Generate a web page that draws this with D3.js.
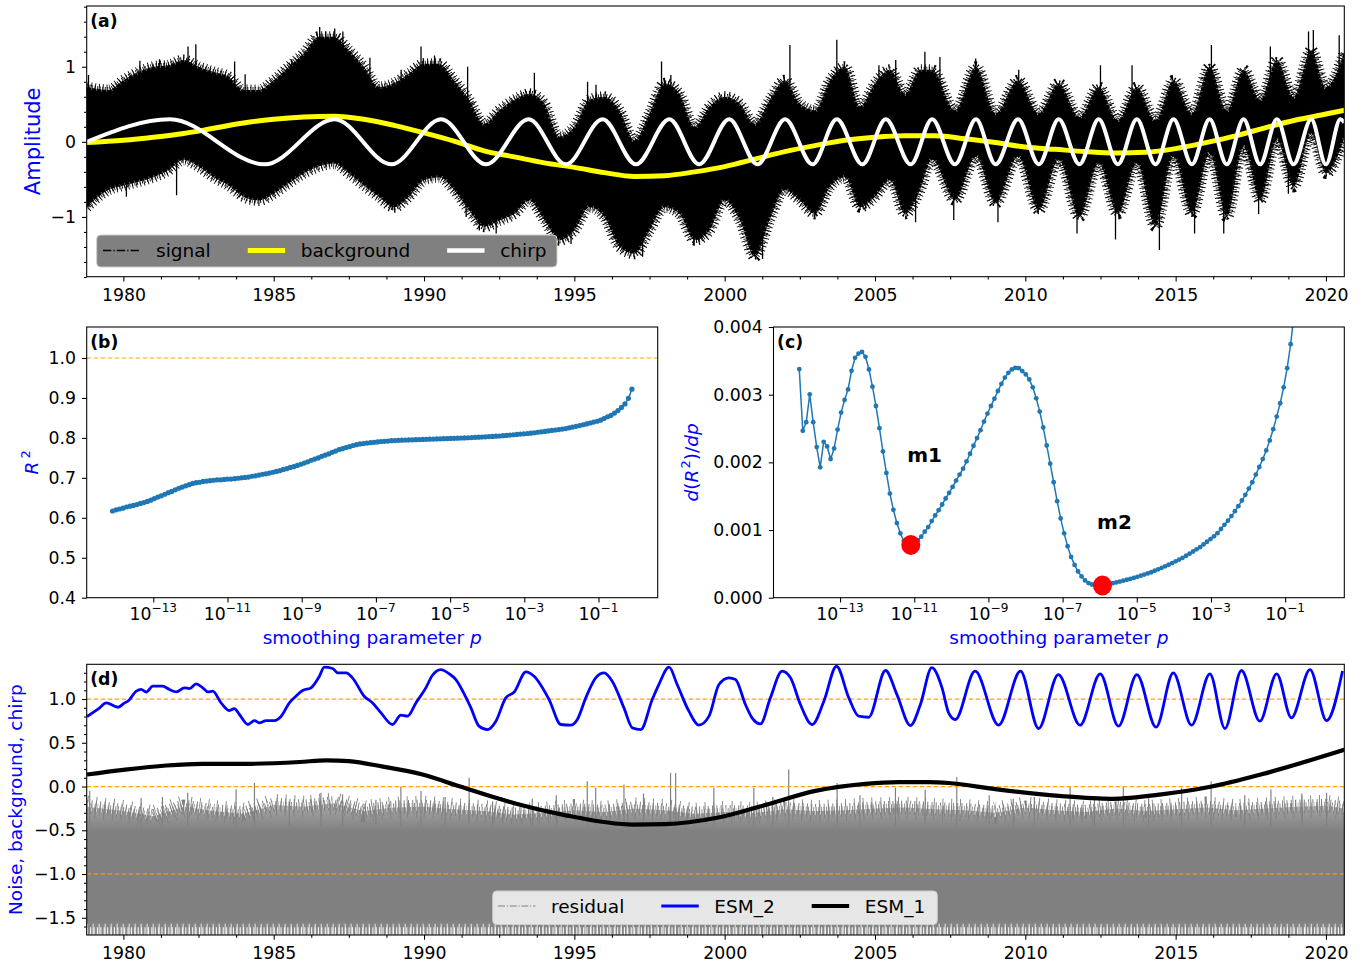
<!DOCTYPE html>
<html>
<head>
<meta charset="utf-8">
<script src="https://cdn.jsdelivr.net/npm/d3@7"></script>
<style>
  body { margin: 0; background: #fff; }
  svg { display: block; font-family: "DejaVu Sans", sans-serif; }
</style>
</head>
<body>
<svg id="chart" width="1364" height="964"></svg>
<script>
// ---------- values ----------

// (a) noisy signal, drawn as its envelope: [year, lower, upper]
const signalEnvelope = [
  [1978.78,-0.87,0.73],[1979.5,-0.64,0.69],[1980.0,-0.58,0.82],[1980.5,-0.53,0.93],
  [1981.0,-0.47,1.00],[1981.5,-0.38,1.02],[1982.0,-0.24,1.09],[1982.5,-0.33,1.00],
  [1983.0,-0.47,0.93],[1983.5,-0.58,0.87],[1984.0,-0.73,0.69],[1984.5,-0.78,0.69],
  [1985.0,-0.69,0.82],[1985.5,-0.55,1.00],[1986.0,-0.42,1.18],[1986.5,-0.33,1.40],
  [1987.0,-0.29,1.40],[1987.5,-0.42,1.22],[1988.0,-0.58,1.00],[1988.5,-0.73,0.73],
  [1989.0,-0.87,0.78],[1989.5,-0.73,0.91],[1990.0,-0.51,1.04],[1990.5,-0.47,1.04],
  [1991.0,-0.64,0.82],[1991.5,-0.91,0.56],[1992.0,-1.13,0.24],[1992.5,-1.05,0.42],
  [1993.0,-0.96,0.56],[1993.5,-0.78,0.64],[1994.0,-1.04,0.51],[1994.5,-1.31,0.07],
  [1995.0,-1.18,0.20],[1995.5,-0.87,0.56],[1996.0,-1.00,0.60],[1996.5,-1.40,0.42],
  [1997.0,-1.49,0.02],[1997.5,-1.18,0.38],[1998.0,-0.87,0.78],[1998.5,-0.96,0.64],
  [1999.0,-1.31,0.20],[1999.5,-1.18,0.47],[2000.0,-0.78,0.60],[2000.5,-1.04,0.51],
  [2001.0,-1.53,0.24],[2001.5,-1.04,0.56],[2002.0,-0.64,0.82],[2002.5,-0.78,0.51],
  [2003.0,-0.96,0.42],[2003.5,-0.60,0.82],[2004.0,-0.47,1.00],[2004.5,-0.87,0.47],
  [2005.0,-0.73,0.78],[2005.5,-0.51,0.96],[2006.0,-0.96,0.64],[2006.5,-0.64,0.96],
  [2006.90,-0.24,0.96],[2007.66,-0.78,0.42],[2008.36,-0.20,1.00],[2009.01,-0.82,0.38],
  [2009.76,-0.20,0.82],[2010.45,-0.91,0.38],[2011.11,-0.24,0.78],[2011.80,-1.00,0.33],
  [2012.44,-0.29,0.73],[2013.08,-0.96,0.29],[2013.71,-0.29,0.73],[2014.33,-1.13,0.29],
  [2014.93,-0.20,0.82],[2015.54,-0.96,0.38],[2016.13,-0.16,1.00],[2016.70,-1.00,0.42],
  [2017.26,-0.07,0.96],[2017.81,-0.78,0.56],[2018.37,0.02,1.09],[2018.92,-0.60,0.60],
  [2019.51,0.11,1.22],[2020.00,-0.42,0.73],[2020.61,0.05,1.20]
];
// isolated spikes of the signal: [year, value]
const signalSpikesUp = [
  [1978.84,0.89],[1980.55,1.08],[1981.2,1.10],[1982.15,1.27],[1982.41,1.30],[1983.70,1.07],
  [1984.05,0.90],[1985.6,1.10],[1986.53,1.53],[1986.73,1.47],[1987.03,1.51],[1987.30,1.47],
  [1988.2,1.12],[1989.24,0.96],[1989.90,1.27],[1990.35,1.15],[1991.45,1.00],[1993.67,0.92],
  [1995.44,0.80],[1995.72,0.76],[1997.90,1.07],[1998.21,0.89],[2002.17,1.29],[2003.73,1.36],
  [2005.13,1.02],[2005.69,1.09],[2006.66,1.20],[2007.16,1.13],[2008.35,1.11],[2009.78,0.96],
  [2012.5,1.02],[2013.55,1.02],[2016.19,1.29],[2018.15,1.27],[2019.42,1.47],[2019.58,1.49],
  [2020.44,1.42]
];
const signalSpikesDown = [
  [1978.85,-0.87],[1980.1,-0.73],[1981.77,-0.71],[1988.96,-0.91],[1991.4,-1.00],[1991.84,-1.18],
  [1992.40,-1.22],[1994.89,-1.36],[1996.77,-1.44],[1997.27,-1.53],[1999.15,-1.31],[2001.26,-1.56],
  [2003.03,-0.98],[2004.69,-0.89],[2006.35,-1.07],[2007.62,-1.04],[2009.09,-1.07],[2010.43,-0.96],
  [2011.72,-1.22],[2013.0,-1.30],[2014.46,-1.44],[2015.63,-1.22],[2016.6,-1.22],[2017.76,-0.96],
  [2018.75,-0.69]
];
// (a) background trend: [year, value]
const background = [
  [1978.78,-0.01],[1980,0.02],[1981,0.06],[1982,0.11],[1983,0.18],[1984,0.25],[1985,0.30],
  [1986,0.33],[1987,0.34],[1988,0.30],[1989,0.22],[1990,0.12],[1991,0.01],[1992,-0.12],
  [1993,-0.20],[1994,-0.28],[1995,-0.34],[1996,-0.41],[1997,-0.46],[1998,-0.45],[1999,-0.40],
  [2000,-0.33],[2001,-0.23],[2002,-0.13],[2003,-0.05],[2004,0.02],[2005,0.06],[2006,0.08],
  [2007,0.08],[2008,0.04],[2009,-0.01],[2010,-0.07],[2011,-0.10],[2012,-0.13],[2013,-0.15],
  [2014,-0.14],[2015,-0.09],[2016,-0.01],[2017,0.08],[2018,0.19],[2019,0.29],[2020,0.37],
  [2020.61,0.42]
];
// (a) chirp: its turning points [year, value]
const chirp = [
  [1978.78,0.0],[1981.55,0.3],[1984.70,-0.3],[1987.03,0.3],[1988.91,-0.3],[1990.57,0.3],
  [1992.07,-0.3],[1993.48,0.3],[1994.72,-0.3],[1995.94,0.3],[1997.05,-0.3],[1998.16,0.3],
  [1999.15,-0.3],[2000.15,0.3],[2001.09,-0.3],[2002.01,0.3],[2002.92,-0.3],[2003.73,0.3],
  [2004.58,-0.3],[2005.36,0.3],[2006.19,-0.3],[2006.90,0.3],[2007.66,-0.3],[2008.36,0.3],
  [2009.01,-0.3],[2009.76,0.3],[2010.45,-0.3],[2011.11,0.3],[2011.80,-0.3],[2012.44,0.3],
  [2013.08,-0.3],[2013.71,0.3],[2014.33,-0.3],[2014.93,0.3],[2015.54,-0.3],[2016.13,0.3],
  [2016.70,-0.3],[2017.26,0.3],[2017.81,-0.3],[2018.37,0.3],[2018.92,-0.3],[2019.51,0.3],
  [2020.00,-0.3],[2020.48,0.3],[2020.61,0.26]
];

// (b), (c) sweep of the smoothing parameter, 150 log-spaced values of p
const logpFirst = -14.1, logpLast = -0.1, nP = 150;
const r2 = [
  0.617,0.620,0.622,0.624,0.627,0.629,0.631,0.633,0.636,0.638,
  0.641,0.644,0.648,0.652,0.655,0.659,0.663,0.666,0.670,0.674,
  0.677,0.680,0.683,0.686,0.688,0.689,0.691,0.692,0.693,0.694,
  0.695,0.695,0.696,0.697,0.697,0.698,0.699,0.700,0.701,0.702,
  0.704,0.705,0.707,0.709,0.710,0.712,0.714,0.716,0.718,0.721,
  0.723,0.726,0.728,0.731,0.734,0.737,0.740,0.744,0.747,0.750,
  0.754,0.757,0.760,0.764,0.767,0.771,0.773,0.776,0.778,0.781,
  0.783,0.785,0.786,0.787,0.788,0.789,0.790,0.791,0.7915,0.792,
  0.793,0.7934,0.794,0.7943,0.7946,0.7949,0.7953,0.7956,0.7959,0.7962,
  0.7965,0.7968,0.7971,0.7975,0.7978,0.7981,0.7984,0.7987,0.799,0.7993,
  0.7997,0.800,0.8004,0.8009,0.8014,0.8018,0.8023,0.8028,0.8032,0.8037,
  0.8042,0.8048,0.8055,0.8063,0.8071,0.8079,0.8087,0.8095,0.8103,0.811,
  0.8118,0.8129,0.8141,0.8152,0.8163,0.8175,0.8186,0.8198,0.8209,0.8221,
  0.8234,0.8253,0.8272,0.829,0.8309,0.8329,0.8351,0.8373,0.8395,0.8417,
  0.8443,0.8486,0.8529,0.8566,0.8621,0.8684,0.8763,0.885,0.899,0.922
];
// d(R^2)/dp in units of 1e-3
const dR2 = [
  3.378,2.466,2.593,3.005,2.593,2.225,1.926,2.304,2.235,2.049,
  2.206,2.485,2.735,2.922,3.078,3.353,3.544,3.608,3.632,3.559,
  3.373,3.118,2.833,2.505,2.162,1.843,1.539,1.299,1.103,0.951,
  0.838,0.790,0.779,0.805,0.850,0.902,0.975,1.044,1.132,1.216,
  1.294,1.377,1.466,1.549,1.637,1.730,1.819,1.907,2.015,2.127,
  2.245,2.358,2.475,2.603,2.721,2.833,2.941,3.054,3.160,3.252,
  3.323,3.373,3.397,3.392,3.348,3.299,3.225,3.108,2.946,2.750,
  2.515,2.250,1.980,1.706,1.426,1.172,0.951,0.760,0.603,0.485,
  0.387,0.314,0.255,0.216,0.195,0.186,0.182,0.180,0.186,0.200,
  0.215,0.225,0.238,0.251,0.265,0.278,0.292,0.308,0.325,0.341,
  0.358,0.376,0.398,0.419,0.441,0.463,0.487,0.512,0.538,0.564,
  0.589,0.620,0.651,0.683,0.715,0.747,0.787,0.827,0.867,0.907,
  0.953,1.015,1.077,1.138,1.206,1.279,1.353,1.436,1.520,1.613,
  1.706,1.819,1.931,2.049,2.176,2.324,2.490,2.676,2.873,3.108,
  3.392,3.745,4.20,4.75,5.40,6.20,7.10,8.20,9.50,11.0
];
const minimaIdx = [32, 87];
const minimaNames = ["m1", "m2"];
const minimaLabelAt = [[-11.19, 2.003], [-6.07, 1.014]];   // [log10 p, 1e-3]

// (d) residual noise: upper edge of the band [year, value], spikes [year, value]
const residualTop = [
  [1978.78,-0.23],[1980,-0.28],[1981,-0.34],[1982,-0.23],[1983,-0.28],[1984,-0.31],[1985,-0.21],
  [1986,-0.23],[1987,-0.19],[1988,-0.28],[1989,-0.24],[1990,-0.23],[1991,-0.26],[1992,-0.28],
  [1993,-0.32],[1994,-0.30],[1995,-0.27],[1996,-0.29],[1997,-0.25],[1998,-0.27],[1999,-0.31],
  [2000,-0.29],[2001,-0.30],[2002,-0.26],[2003,-0.28],[2004,-0.27],[2005,-0.25],[2006,-0.24],
  [2007,-0.26],[2008,-0.27],[2009,-0.30],[2010,-0.24],[2011,-0.27],[2012,-0.29],[2013,-0.25],
  [2014,-0.28],[2015,-0.26],[2016,-0.24],[2017,-0.27],[2018,-0.25],[2019,-0.23],[2020,-0.22],
  [2020.61,-0.25]
];
const residualFloor = -1.75;
const residualSpikes = [
  [1978.88,-0.05],[1980.59,-0.13],[1981.3,-0.12],[1982.14,-0.07],[1983.75,-0.03],[1984.36,0.04],
  [1985.52,-0.17],[1986.57,-0.07],[1987.29,-0.09],[1988.4,-0.15],[1989.23,0.0],[1989.90,-0.05],
  [1990.7,-0.12],[1991.50,0.10],[1992.28,-0.17],[1993.6,-0.14],[1994.4,-0.10],[1995.43,0.06],
  [1995.71,-0.015],[1996.65,0.023],[1997.3,-0.08],[1998.20,0.156],[1998.37,0.156],[1999.64,-0.015],
  [2000.97,-0.015],[2001.6,-0.12],[2002.13,0.194],[2003.74,0.04],[2004.5,-0.10],[2005.68,-0.015],
  [2006.67,-0.034],[2007.72,0.107],[2008.8,-0.10],[2009.6,-0.14],[2010.3,-0.12],[2011.49,0.004],
  [2012.3,-0.11],[2013.26,0.004],[2014.1,-0.13],[2015.20,-0.015],[2016.18,0.06],[2017.3,-0.10],
  [2018.17,-0.034],[2019.2,-0.08],[2020.02,-0.07]
];
// (d) ESM_2 (chirp estimate, offset by +1)
const esm2 = [
  [1978.79,0.80],[1979.21,0.90],[1979.43,0.956],[1979.82,0.906],[1980.04,0.956],[1980.15,0.975],
  [1980.43,1.09],[1980.59,1.11],[1980.76,1.08],[1980.98,1.147],[1981.31,1.147],[1981.53,1.109],
  [1981.76,1.082],[1982.03,1.128],[1982.20,1.12],[1982.42,1.173],[1982.64,1.128],[1982.81,1.082],
  [1982.97,1.09],[1983.25,0.956],[1983.53,0.869],[1983.69,0.891],[1983.86,0.823],[1984.14,0.709],
  [1984.36,0.754],[1984.52,0.728],[1984.75,0.754],[1985.02,0.754],[1985.25,0.804],[1985.52,0.956],
  [1985.74,1.032],[1985.96,1.097],[1986.24,1.128],[1986.52,1.261],[1986.68,1.364],[1986.96,1.349],
  [1987.13,1.299],[1987.41,1.299],[1987.62,1.242],[1988.01,1.032],[1988.29,0.956],[1988.57,0.842],
  [1988.95,0.709],[1989.23,0.815],[1989.45,0.804],[1989.73,0.956],[1990.06,1.128],[1990.28,1.272],
  [1990.56,1.337],[1990.84,1.288],[1991.06,1.223],[1991.39,1.021],[1991.56,0.899],[1991.83,0.690],
  [1992.11,0.651],[1992.39,0.747],[1992.72,1.013],[1993.00,1.08],[1993.39,1.311],[1993.66,1.261],
  [1994.16,0.994],[1994.55,0.709],[1994.88,0.701],[1995.10,0.766],[1995.38,1.013],[1995.71,1.242],
  [1995.99,1.299],[1996.26,1.204],[1996.65,0.899],[1996.93,0.670],[1997.21,0.651],[1997.59,0.994],
  [1997.81,1.166],[1998.15,1.364],[1998.42,1.166],[1998.81,0.861],[1999.14,0.701],[1999.48,0.804],
  [1999.81,1.166],[2000.14,1.242],[2000.36,1.223],[2000.69,0.937],[2000.91,0.785],[2001.19,0.716],
  [2001.52,1.013],[2001.91,1.318],[2002.19,1.242],[2002.52,0.937],[2002.91,0.709],[2003.30,0.975],
  [2003.72,1.375],[2004.13,1.013],[2004.46,0.804],[2004.79,0.792],[2005.35,1.326],[2005.73,1.051],
  [2006.18,0.697],[2006.51,0.937],[2006.89,1.36],[2007.23,1.128],[2007.45,0.842],[2007.67,0.766],
  [2008.33,1.318],[2009.11,0.701],[2009.84,1.318],[2010.44,0.663],[2011.10,1.280],[2011.82,0.701],
  [2012.49,1.288],[2013.10,0.690],[2013.71,1.280],[2014.35,0.678],[2014.92,1.299],[2015.53,0.701],
  [2016.14,1.288],[2016.64,0.663],[2017.19,1.326],[2017.80,0.747],[2018.36,1.288],[2018.85,0.785],
  [2019.47,1.337],[2020.02,0.754],[2020.55,1.32]
];
// (d) ESM_1 (background estimate)
const esm1 = [
  [1978.79,0.137],[1980,0.19],[1981.42,0.24],[1982.6,0.26],[1984.2,0.26],[1985.86,0.28],
  [1986.75,0.30],[1987.5,0.29],[1988.6,0.23],[1989.95,0.137],[1991.2,0.0],[1992.5,-0.14],
  [1993.1,-0.20],[1994.72,-0.33],[1996.94,-0.435],[1998.04,-0.43],[1999.7,-0.36],[2001.36,-0.21],
  [2003.02,-0.05],[2004.68,0.03],[2005.79,0.05],[2006.79,0.05],[2007.45,0.04],[2009.0,-0.03],
  [2011.21,-0.11],[2012.87,-0.14],[2014.53,-0.09],[2016.2,0.0],[2017.86,0.14],[2020.61,0.42]
];
const refLevelsB = [1.0];
const refLevelsD = [1.0, 0.0, -1.0];

// tick values and labels
const yearTicks = [1980, 1985, 1990, 1995, 2000, 2005, 2010, 2015, 2020];
const ampTicks = [-1, 0, 1];
const r2Ticks = [0.4, 0.5, 0.6, 0.7, 0.8, 0.9, 1.0];
const dR2Ticks = [0, 0.001, 0.002, 0.003, 0.004];
const dTicks = [-1.5, -1.0, -0.5, 0.0, 0.5, 1.0];
const logTickExps = [-13, -11, -9, -7, -5, -3, -1];

// ---------- layout ----------
const PA = {l: 86.7, r: 1344.3, t: 6, b: 276.7};
const PB = {l: 86.7, r: 657.7, t: 327, b: 597.7};
const PC = {l: 773.5, r: 1344.3, t: 327, b: 597.7};
const PD = {l: 86.7, r: 1344.3, t: 664.3, b: 935};

const FS_TICK = "17.3px", FS_LAB = "18.5px";
const C_BLUE = "#1f77b4", C_ORANGE = "#ffa500";

const xT = d3.scaleLinear().domain([1978.78, 2020.61]).range([PA.l, PA.r]);
const yA = d3.scaleLinear().domain([-1.796, 1.809]).range([PA.b, PA.t]);
const pDomain = [Math.pow(10, -14.795), Math.pow(10, 0.595)];
const xB = d3.scaleLog().domain(pDomain).range([PB.l, PB.r]);
const yB = d3.scaleLinear().domain([0.4, 1.0776]).range([PB.b, PB.t]);
const xC = d3.scaleLog().domain(pDomain).range([PC.l, PC.r]);
const yC = d3.scaleLinear().domain([0, 0.004]).range([PC.b, PC.t]);
const yD = d3.scaleLinear().domain([-1.697, 1.397]).range([PD.b, PD.t]);

const pGrid = d3.range(nP).map(i => Math.pow(10, logpFirst + i * (logpLast - logpFirst) / (nP - 1)));
const sweepB = pGrid.map((p, i) => [p, r2[i]]);
const sweepC = pGrid.map((p, i) => [p, dR2[i] / 1000]);

const svg = d3.select("#chart");
svg.append("rect").attr("width", 1364).attr("height", 964).attr("fill", "#fff");
const defs = svg.append("defs");

function clipped(id, P) {
  defs.append("clipPath").attr("id", id).append("rect")
    .attr("x", P.l).attr("y", P.t).attr("width", P.r - P.l).attr("height", P.b - P.t);
  return svg.append("g").attr("clip-path", `url(#${id})`);
}

function frame(P) {
  svg.append("rect").attr("x", P.l).attr("y", P.t)
    .attr("width", P.r - P.l).attr("height", P.b - P.t)
    .attr("fill", "none").attr("stroke", "#000").attr("stroke-width", 1.07);
}

function axis(gen, tx, ty, values, size, pad, fmt) {
  const g = svg.append("g").attr("transform", `translate(${tx},${ty})`)
    .call(gen.tickValues(values).tickSize(size).tickSizeOuter(0).tickPadding(pad).tickFormat(fmt));
  g.attr("font-family", null).attr("font-size", null);
  g.select(".domain").remove();
  g.selectAll(".tick line").attr("stroke", "#000").attr("stroke-width", 1.07);
  g.selectAll(".tick text").attr("fill", "#000").style("font-size", FS_TICK);
  return g;
}

function logLabels(scale, P) {
  logTickExps.forEach(e => {
    const t = svg.append("text").attr("x", scale(Math.pow(10, e))).attr("y", P.b + 22)
      .attr("text-anchor", "middle").style("font-size", FS_TICK);
    t.append("tspan").text("10");
    t.append("tspan").attr("dy", -8).style("font-size", "12.1px").text("\u2212" + Math.abs(e));
  });
}

function panelTag(P, s) {
  svg.append("text").attr("x", P.l + 3.5).attr("y", P.t + 20.5)
    .attr("font-weight", "bold").style("font-size", FS_TICK).text(s);
}

function yTitle(x, y, size, build) {
  const t = svg.append("text").attr("transform", `translate(${x},${y}) rotate(-90)`)
    .attr("text-anchor", "middle").attr("fill", "#0000ff").style("font-size", size);
  build(t);
}

// ragged "hair" along a band edge: a wide dashed stroke gives thin strokes across the edge
function hairs(g, d, color, layers) {
  layers.forEach(([w, dash, op]) => g.append("path").attr("d", d)
    .attr("fill", "none").attr("stroke", color).attr("stroke-width", w)
    .attr("stroke-dasharray", dash).attr("stroke-opacity", op));
}

const line = (sx, sy) => d3.line().x(d => sx(d[0])).y(d => sy(d[1]));
const yearMinors = d3.range(-1, 35).map(k => 1978.75 + 1.25 * k)
  .filter(v => v >= 1978.78 && v <= 2020.61 && v % 5 !== 0);

// ---------- (a) ----------
const gA = clipped("clipA", PA);
gA.append("path").datum(signalEnvelope)
  .attr("d", d3.area().x(d => xT(d[0])).y0(d => yA(d[1])).y1(d => yA(d[2])).curve(d3.curveMonotoneX))
  .attr("fill", "#000");
const edgeA = [
  line(xT, yA).curve(d3.curveMonotoneX)(signalEnvelope.map(d => [d[0], d[2]])),
  line(xT, yA).curve(d3.curveMonotoneX)(signalEnvelope.map(d => [d[0], d[1]]))
];
edgeA.forEach(d => hairs(gA, d, "#000", [[11, "0.9,3.1", 1], [6, "0.9,1.7", 1]]));
edgeA.forEach(d => hairs(gA, d, "#fff", [[4, "0.6,4.4", 0.6]]));
gA.selectAll("line.su").data(signalSpikesUp).join("line")
  .attr("x1", d => xT(d[0])).attr("x2", d => xT(d[0]))
  .attr("y1", d => yA(d[1] - 0.55)).attr("y2", d => yA(d[1]))
  .attr("stroke", "#000").attr("stroke-width", 1.3);
gA.selectAll("line.sd").data(signalSpikesDown).join("line")
  .attr("x1", d => xT(d[0])).attr("x2", d => xT(d[0]))
  .attr("y1", d => yA(d[1] + 0.55)).attr("y2", d => yA(d[1]))
  .attr("stroke", "#000").attr("stroke-width", 1.3);
gA.append("path").attr("d", line(xT, yA).curve(d3.curveMonotoneX)(background))
  .attr("fill", "none").attr("stroke", "#ffff00").attr("stroke-width", 5);
gA.append("path").attr("d", line(xT, yA).curve(d3.curveMonotoneX)(chirp))
  .attr("fill", "none").attr("stroke", "#fff").attr("stroke-width", 4);
frame(PA);
axis(d3.axisBottom(xT), 0, PA.b, yearTicks, 4.7, 7.3, d3.format("d"));
axis(d3.axisBottom(xT), 0, PA.b, yearMinors, 2.7, 0, "");
axis(d3.axisLeft(yA), PA.l, 0, ampTicks, 4.7, 6, d3.format("d"));
axis(d3.axisLeft(yA), PA.l, 0, d3.range(-9, 10).map(k => k * 0.2).filter(v => Math.abs(v % 1) > 1e-6), 2.7, 0, "");
yTitle(40, (PA.t + PA.b) / 2, "21px", t => t.text("Amplitude"));
panelTag(PA, "(a)");

// legend helper
function legend(box, fill, startX, midY, items) {
  svg.append("rect").attr("x", box[0]).attr("y", box[1]).attr("width", box[2]).attr("height", box[3])
    .attr("rx", 4).attr("fill", fill).attr("fill-opacity", box[4]).attr("stroke", "#cccccc");
  let x = startX;
  items.forEach(it => {
    svg.append("line").attr("x1", x).attr("x2", x + 37.4).attr("y1", midY).attr("y2", midY)
      .attr("stroke", it.color).attr("stroke-width", it.width).attr("stroke-dasharray", it.dash || null);
    const t = svg.append("text").attr("x", x + 53).attr("y", midY + 6.6)
      .attr("fill", "#000").style("font-size", FS_LAB).text(it.name);
    x = x + 53 + t.node().getComputedTextLength() + 37;
  });
}
legend([96.7, 235, 460.3, 32, 1], "#808080", 103, 250.5, [
  {name: "signal", color: "#000", width: 1.3, dash: "8.3,2.1,1.3,2.1"},
  {name: "background", color: "#ffff00", width: 5},
  {name: "chirp", color: "#fff", width: 4.5}
]);

// ---------- (b) ----------
const gB = clipped("clipB", PB);
refLevelsB.forEach(v => gB.append("line").attr("x1", PB.l).attr("x2", PB.r)
  .attr("y1", yB(v)).attr("y2", yB(v)).attr("stroke", C_ORANGE).attr("stroke-width", 1.2)
  .attr("stroke-dasharray", "4.5,2.5"));
gB.append("path").attr("d", line(xB, yB)(sweepB))
  .attr("fill", "none").attr("stroke", C_BLUE).attr("stroke-width", 1.5);
gB.selectAll("circle").data(sweepB).join("circle")
  .attr("cx", d => xB(d[0])).attr("cy", d => yB(d[1])).attr("r", 2.6).attr("fill", C_BLUE);
frame(PB);
axis(d3.axisBottom(xB), 0, PB.b, logTickExps.map(e => Math.pow(10, e)), 4.7, 0, "");
logLabels(xB, PB);
axis(d3.axisLeft(yB), PB.l, 0, r2Ticks, 4.7, 6, d3.format(".1f"));
yTitle(38, (PB.t + PB.b) / 2, FS_LAB, t => {
  t.append("tspan").attr("font-style", "italic").text("R");
  t.append("tspan").attr("dx", 3).attr("dy", -8).style("font-size", "13px").text("2");
});
svg.append("text").attr("x", (PB.l + PB.r) / 2).attr("y", 644).attr("text-anchor", "middle")
  .attr("fill", "#0000ff").style("font-size", FS_LAB)
  .call(t => { t.append("tspan").text("smoothing parameter "); t.append("tspan").attr("font-style", "italic").text("p"); });
panelTag(PB, "(b)");

// ---------- (c) ----------
const gC = clipped("clipC", PC);
gC.append("path").attr("d", line(xC, yC)(sweepC))
  .attr("fill", "none").attr("stroke", C_BLUE).attr("stroke-width", 1.5);
gC.selectAll("circle.pt").data(sweepC).join("circle")
  .attr("cx", d => xC(d[0])).attr("cy", d => yC(d[1])).attr("r", 2.4).attr("fill", C_BLUE);
gC.selectAll("ellipse.min").data(minimaIdx).join("ellipse")
  .attr("cx", i => xC(sweepC[i][0])).attr("cy", i => yC(sweepC[i][1]))
  .attr("rx", 9.5).attr("ry", 10).attr("fill", "#ff0000");
minimaNames.forEach((s, k) => svg.append("text")
  .attr("x", xC(Math.pow(10, minimaLabelAt[k][0]))).attr("y", yC(minimaLabelAt[k][1] / 1000))
  .attr("font-weight", "bold").style("font-size", "20px").text(s));
frame(PC);
axis(d3.axisBottom(xC), 0, PC.b, logTickExps.map(e => Math.pow(10, e)), 4.7, 0, "");
logLabels(xC, PC);
axis(d3.axisLeft(yC), PC.l, 0, dR2Ticks, 4.7, 6, d3.format(".3f"));
yTitle(697.5, (PC.t + PC.b) / 2, FS_LAB, t => {
  t.append("tspan").attr("font-style", "italic").text("d");
  t.append("tspan").text("(");
  t.append("tspan").attr("font-style", "italic").text("R");
  t.append("tspan").attr("dx", 1).attr("dy", -8).style("font-size", "13px").text("2");
  t.append("tspan").attr("dy", 8).text(")/");
  t.append("tspan").attr("font-style", "italic").text("dp");
});
svg.append("text").attr("x", (PC.l + PC.r) / 2).attr("y", 644).attr("text-anchor", "middle")
  .attr("fill", "#0000ff").style("font-size", FS_LAB)
  .call(t => { t.append("tspan").text("smoothing parameter "); t.append("tspan").attr("font-style", "italic").text("p"); });
panelTag(PC, "(c)");

// ---------- (d) ----------
const gD = clipped("clipD", PD);
const grad = defs.append("linearGradient").attr("id", "resGrad").attr("gradientUnits", "userSpaceOnUse")
  .attr("x1", 0).attr("x2", 0).attr("y1", yD(-0.2)).attr("y2", yD(-1.75));
[[0, 0.7], [0.2, 1], [0.85, 1], [1, 0.85]].forEach(s =>
  grad.append("stop").attr("offset", s[0]).attr("stop-color", "#808080").attr("stop-opacity", s[1]));
gD.append("path").datum(residualTop)
  .attr("d", d3.area().x(d => xT(d[0])).y0(yD(residualFloor)).y1(d => yD(d[1])).curve(d3.curveLinear))
  .attr("fill", "url(#resGrad)");
const edgeD = line(xT, yD)(residualTop);
hairs(gD, edgeD, "#808080", [[22, "0.9,7.9", 1], [14, "1,3.3", 1], [8, "0.9,1.7", 1]]);
hairs(gD, edgeD, "#fff", [[8, "0.7,4.3", 0.8]]);
const floorD = line(xT, yD)(residualTop.map(d => [d[0], -1.66]));
hairs(gD, floorD, "#fff", [[9, "1.1,2.3", 0.9], [16, "0.9,5.1", 0.9]]);
gD.selectAll("line.rs").data(residualSpikes).join("line")
  .attr("x1", d => xT(d[0])).attr("x2", d => xT(d[0]))
  .attr("y1", yD(-0.45)).attr("y2", d => yD(d[1]))
  .attr("stroke", "#808080").attr("stroke-width", 1.2);
refLevelsD.forEach(v => gD.append("line").attr("x1", PD.l).attr("x2", PD.r)
  .attr("y1", yD(v)).attr("y2", yD(v)).attr("stroke", C_ORANGE).attr("stroke-width", 1.2)
  .attr("stroke-dasharray", "4.5,2.5"));
gD.append("path").attr("d", line(xT, yD).curve(d3.curveMonotoneX)(esm2))
  .attr("fill", "none").attr("stroke", "#0000ff").attr("stroke-width", 2.8);
gD.append("path").attr("d", line(xT, yD).curve(d3.curveMonotoneX)(esm1))
  .attr("fill", "none").attr("stroke", "#000").attr("stroke-width", 4.2);
frame(PD);
axis(d3.axisBottom(xT), 0, PD.b, yearTicks, 4.7, 7.3, d3.format("d"));
axis(d3.axisBottom(xT), 0, PD.b, yearMinors, 2.7, 0, "");
axis(d3.axisLeft(yD), PD.l, 0, dTicks, 4.7, 6, d3.format(".1f"));
axis(d3.axisLeft(yD), PD.l, 0, d3.range(-16, 14).filter(k => k % 5 !== 0).map(k => k / 10), 2.7, 0, "");
yTitle(22, (PD.t + PD.b) / 2, FS_LAB, t => t.text("Noise, background, chirp"));
panelTag(PD, "(d)");
legend([492.7, 891, 444.6, 33.5, 0.8], "#fff", 498, 906, [
  {name: "residual", color: "#808080", width: 1.1, dash: "7,1.8,1.1,1.8"},
  {name: "ESM_2", color: "#0000ff", width: 2.8},
  {name: "ESM_1", color: "#000", width: 4.2}
]);
</script>
</body>
</html>
